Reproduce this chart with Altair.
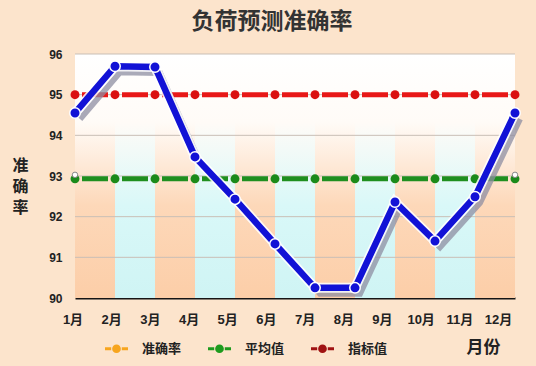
import altair as alt
import pandas as pd

# ---- data ----
months = ["1月", "2月", "3月", "4月", "5月", "6月", "7月", "8月", "9月", "10月", "11月", "12月"]
month_idx = list(range(1, 13))
accuracy = [94.55, 95.7, 95.68, 93.47, 92.43, 91.33, 90.25, 90.25, 92.36, 91.4, 92.49, 94.55]
average_value = 92.93
target_value = 95.0
y_ticks = [90, 91, 92, 93, 94, 95, 96]
legend_names = ["准确率", "平均值", "指标值"]
legend_colors = ["#F7A51E", "#1E9B1E", "#A01212"]

FONT = "Liberation Sans, Noto Sans CJK SC"

df = pd.DataFrame({
    "m": month_idx,
    "month": months,
    "acc": accuracy,
    "avg": [average_value] * 12,
    "tgt": [target_value] * 12,
})
bands = pd.DataFrame({
    "start": month_idx[:-1],
    "end": month_idx[1:],
    "kind": ["o" if i % 2 == 0 else "c" for i in range(11)],
})
grid_df = pd.DataFrame({"g": y_ticks[1:]})
ends_df = df[df["m"].isin([1, 12])]
legend_df = pd.DataFrame({"series": legend_names, "m": [1, 1, 1], "v": [93, 93, 93]})

xscale = alt.Scale(domain=[1, 12], nice=False, zero=False)
yscale = alt.Scale(domain=[90, 96], nice=False, zero=False)

def grad(mid, bottom):
    return alt.LinearGradient(
        gradient="linear",
        stops=[
            alt.GradientStop(offset=0, color="#FFFFFF"),
            alt.GradientStop(offset=0.28, color="#FFFBF7"),
            alt.GradientStop(offset=0.62, color=mid),
            alt.GradientStop(offset=1, color=bottom),
        ],
        x1=0, x2=0, y1=0, y2=1,
    )

x_main = alt.X(
    "start:Q", scale=xscale,
    axis=alt.Axis(labels=False, ticks=False, grid=False, title=None,
                  domain=True, domainColor="#151515", domainWidth=2),
)
y_main = alt.Y(
    datum=96, scale=yscale,
    axis=alt.Axis(values=y_ticks, grid=False, ticks=False, domain=False,
                  labelPadding=13, labelFont=FONT, labelFontSize=12,
                  labelFontWeight="bold", labelColor="#222222",
                  title=["准", "确", "率"], titleAngle=0, titleX=-55, titleY=111,
                  titleAlign="center", titleBaseline="middle",
                  titleFont=FONT, titleFontSize=16, titleFontWeight="bold",
                  titleColor="#222222", titleLineHeight=21),
)

band_o = alt.Chart(bands).transform_filter("datum.kind == 'o'").mark_rect(
    color=grad("#FDD8B9", "#FCCEA8")
).encode(x=x_main, x2="end:Q", y=y_main, y2=alt.datum(90))

band_c = alt.Chart(bands).transform_filter("datum.kind == 'c'").mark_rect(
    color=grad("#D9F8F8", "#CFF4F4")
).encode(x="start:Q", x2="end:Q", y=alt.Y(datum=96), y2=alt.datum(90))

grid = alt.Chart(grid_df).mark_rule(color="#C9BFB6", strokeWidth=1).encode(
    y=alt.Y("g:Q")
)

base = alt.Chart(df)

red_line = base.mark_line(color="#E81818", strokeWidth=5, strokeDash=[26, 14],
                          strokeDashOffset=33).encode(x="m:Q", y="tgt:Q")
red_pts = base.mark_point(filled=True, color="#DA1010", size=80, opacity=1).encode(
    x="m:Q", y="tgt:Q")

green_line = base.mark_line(color="#1F8F1F", strokeWidth=5, strokeDash=[26, 14],
                            strokeDashOffset=33).encode(x="m:Q", y="avg:Q")
green_pts = base.mark_point(filled=True, color="#1A8A1A", size=80, opacity=1).encode(
    x="m:Q", y="avg:Q")
green_ends = alt.Chart(ends_df).mark_point(filled=True, color="#FFFFFF", stroke="#888888",
                                           strokeWidth=1, size=30, opacity=1,
                                           yOffset=-4).encode(x="m:Q", y="avg:Q")

shadow = base.mark_line(color="#8E8EA2", strokeWidth=6, opacity=0.75,
                        xOffset=5, yOffset=6).encode(x="m:Q", y="acc:Q")
halo = base.mark_line(color="#FFFFFF", strokeWidth=10, opacity=0.85).encode(
    x="m:Q", y="acc:Q")
blue_line = base.mark_line(color="#1212D6", strokeWidth=6.5).encode(x="m:Q", y="acc:Q")
blue_pts = base.mark_point(filled=True, color="#1212D6", size=110, stroke="#FFFFFF",
                           strokeWidth=1.5, opacity=1).encode(x="m:Q", y="acc:Q")

sym = ("M-1,-0.13 H-0.46 V0.13 H-1 Z M0.46,-0.13 H1 V0.13 H0.46 Z "
       "M-0.38,0 A0.38,0.38 0 1,0 0.38,0 A0.38,0.38 0 1,0 -0.38,0 Z")
legend_layer = alt.Chart(legend_df).mark_point(filled=True, opacity=0).encode(
    x="m:Q", y="v:Q",
    color=alt.Color(
        "series:N",
        scale=alt.Scale(domain=legend_names, range=legend_colors),
        legend=alt.Legend(orient="none", legendX=30, legendY=283, direction="horizontal",
                          title=None, symbolType=sym, symbolSize=529, symbolOpacity=1,
                          symbolStrokeWidth=0, labelFont=FONT, labelFontSize=13,
                          labelFontWeight="bold", labelColor="#222222",
                          labelOffset=14, columnPadding=26),
    ),
)

main = alt.layer(band_o, band_c, grid, red_line, red_pts, green_line, green_pts,
                 shadow, halo, blue_line, blue_pts, green_ends, legend_layer)

label_layer = alt.Chart(df).mark_point(opacity=0).encode(
    x=alt.X("m:Q",
            scale=alt.Scale(domain=[1, 12], range=[-2.5, 423], nice=False, zero=False),
            axis=alt.Axis(orient="bottom", values=month_idx, labelOverlap=False,
                          labelFlush=False, labelBound=False,
                          labelExpr="datum.value + '月'", ticks=False, domain=False,
                          grid=False, labelPadding=15, labelFont=FONT, labelFontSize=13,
                          labelFontWeight="bold", labelColor="#222222",
                          title="月份", titleX=425, titleY=49, titleAlign="right",
                          titleBaseline="middle", titleFont=FONT, titleFontSize=17,
                          titleFontWeight="bold", titleColor="#222222")),
    y=alt.Y("acc:Q"),
)

chart = alt.layer(main, label_layer).resolve_scale(x="independent").properties(
    width=440, height=244,
    padding={"left": 75, "top": 54, "right": 21, "bottom": 68},
    autosize=alt.AutoSizeParams(type="none"),
    background="#FCE4CC",
    title=alt.TitleParams("负荷预测准确率", font=FONT, fontSize=23, fontWeight="bold",
                          color="#333333", anchor="middle", dx=-23, offset=12),
).configure_view(stroke=None)

chart.save("out.html", embed_options={"renderer": "svg", "actions": False})
